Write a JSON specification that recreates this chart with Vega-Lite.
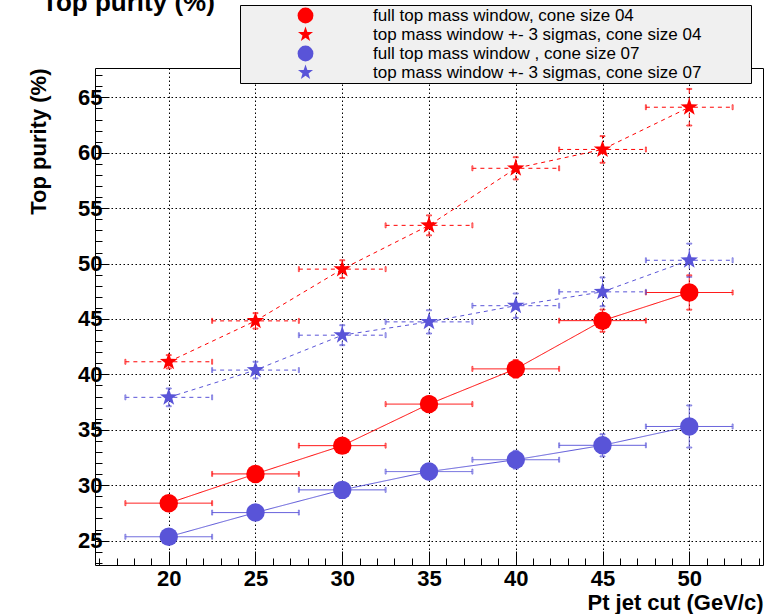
{
  "$schema": "https://vega.github.io/schema/vega-lite/v6.json",
  "width": 668,
  "height": 497,
  "autosize": {"type": "none"},
  "padding": {"left": 95, "top": 68, "right": 8, "bottom": 49},
  "background": "white",
  "title": {
    "text": "Top purity (%)",
    "anchor": "start",
    "frame": "group",
    "font": "Liberation Sans",
    "fontSize": 26,
    "fontWeight": "bold",
    "color": "black",
    "dx": -53,
    "offset": -32,
    "baseline": "alphabetic"
  },
  "config": {
    "view": {"stroke": "black", "strokeWidth": 1},
    "font": "Liberation Sans",
    "axis": {
      "gridColor": "black",
      "gridDash": [1.5, 2.5],
      "gridWidth": 1,
      "tickColor": "black",
      "tickWidth": 1,
      "domain": false,
      "labelFont": "Liberation Sans",
      "labelFontSize": 22,
      "labelFontWeight": "bold",
      "labelColor": "black",
      "labelFlush": false,
      "labelOverlap": false,
      "titleFont": "Liberation Sans",
      "titleFontSize": 22,
      "titleFontWeight": "bold",
      "titleColor": "black",
      "titleAnchor": "end"
    }
  },
  "resolve": {"axis": {"x": "independent", "y": "independent"}},
  "data": {
    "values": [
      {"series": "full top mass window, cone size 04", "x": 20, "y": 28.38, "xlo": 17.5, "xhi": 22.5, "ylo": 27.88, "yhi": 28.88},
      {"series": "full top mass window, cone size 04", "x": 25, "y": 31.02, "xlo": 22.5, "xhi": 27.5, "ylo": 30.47, "yhi": 31.57},
      {"series": "full top mass window, cone size 04", "x": 30, "y": 33.57, "xlo": 27.5, "xhi": 32.5, "ylo": 32.97, "yhi": 34.17},
      {"series": "full top mass window, cone size 04", "x": 35, "y": 37.32, "xlo": 32.5, "xhi": 37.5, "ylo": 36.62, "yhi": 38.02},
      {"series": "full top mass window, cone size 04", "x": 40, "y": 40.5, "xlo": 37.5, "xhi": 42.5, "ylo": 39.7, "yhi": 41.3},
      {"series": "full top mass window, cone size 04", "x": 45, "y": 44.85, "xlo": 42.5, "xhi": 47.5, "ylo": 43.85, "yhi": 45.85},
      {"series": "full top mass window, cone size 04", "x": 50, "y": 47.39, "xlo": 47.5, "xhi": 52.5, "ylo": 45.84, "yhi": 48.94},
      {"series": "top mass window +- 3 sigmas, cone size 04", "x": 20, "y": 41.14, "xlo": 17.5, "xhi": 22.5, "ylo": 40.54, "yhi": 41.74},
      {"series": "top mass window +- 3 sigmas, cone size 04", "x": 25, "y": 44.83, "xlo": 22.5, "xhi": 27.5, "ylo": 44.13, "yhi": 45.53},
      {"series": "top mass window +- 3 sigmas, cone size 04", "x": 30, "y": 49.5, "xlo": 27.5, "xhi": 32.5, "ylo": 48.7, "yhi": 50.3},
      {"series": "top mass window +- 3 sigmas, cone size 04", "x": 35, "y": 53.45, "xlo": 32.5, "xhi": 37.5, "ylo": 52.55, "yhi": 54.35},
      {"series": "top mass window +- 3 sigmas, cone size 04", "x": 40, "y": 58.6, "xlo": 37.5, "xhi": 42.5, "ylo": 57.6, "yhi": 59.6},
      {"series": "top mass window +- 3 sigmas, cone size 04", "x": 45, "y": 60.3, "xlo": 42.5, "xhi": 47.5, "ylo": 59.1, "yhi": 61.5},
      {"series": "top mass window +- 3 sigmas, cone size 04", "x": 50, "y": 64.11, "xlo": 47.5, "xhi": 52.5, "ylo": 62.46, "yhi": 65.76},
      {"series": "full top mass window , cone size 07", "x": 20, "y": 25.35, "xlo": 17.5, "xhi": 22.5, "ylo": 24.85, "yhi": 25.85},
      {"series": "full top mass window , cone size 07", "x": 25, "y": 27.53, "xlo": 22.5, "xhi": 27.5, "ylo": 26.98, "yhi": 28.08},
      {"series": "full top mass window , cone size 07", "x": 30, "y": 29.58, "xlo": 27.5, "xhi": 32.5, "ylo": 28.98, "yhi": 30.18},
      {"series": "full top mass window , cone size 07", "x": 35, "y": 31.23, "xlo": 32.5, "xhi": 37.5, "ylo": 30.53, "yhi": 31.93},
      {"series": "full top mass window , cone size 07", "x": 40, "y": 32.3, "xlo": 37.5, "xhi": 42.5, "ylo": 31.5, "yhi": 33.1},
      {"series": "full top mass window , cone size 07", "x": 45, "y": 33.6, "xlo": 42.5, "xhi": 47.5, "ylo": 32.6, "yhi": 34.6},
      {"series": "full top mass window , cone size 07", "x": 50, "y": 35.3, "xlo": 47.5, "xhi": 52.5, "ylo": 33.4, "yhi": 37.2},
      {"series": "top mass window +- 3 sigmas, cone size 07", "x": 20, "y": 37.93, "xlo": 17.5, "xhi": 22.5, "ylo": 37.13, "yhi": 38.73},
      {"series": "top mass window +- 3 sigmas, cone size 07", "x": 25, "y": 40.39, "xlo": 22.5, "xhi": 27.5, "ylo": 39.64, "yhi": 41.14},
      {"series": "top mass window +- 3 sigmas, cone size 07", "x": 30, "y": 43.54, "xlo": 27.5, "xhi": 32.5, "ylo": 42.64, "yhi": 44.44},
      {"series": "top mass window +- 3 sigmas, cone size 07", "x": 35, "y": 44.74, "xlo": 32.5, "xhi": 37.5, "ylo": 43.69, "yhi": 45.79},
      {"series": "top mass window +- 3 sigmas, cone size 07", "x": 40, "y": 46.2, "xlo": 37.5, "xhi": 42.5, "ylo": 45.1, "yhi": 47.3},
      {"series": "top mass window +- 3 sigmas, cone size 07", "x": 45, "y": 47.45, "xlo": 42.5, "xhi": 47.5, "ylo": 46.15, "yhi": 48.75},
      {"series": "top mass window +- 3 sigmas, cone size 07", "x": 50, "y": 50.3, "xlo": 47.5, "xhi": 52.5, "ylo": 48.8, "yhi": 51.8}
    ]
  },
  "layer": [
    {
      "mark": {"type": "line", "strokeWidth": 1},
      "encoding": {
        "x": {"field": "x", "type": "quantitative", "scale": {"domain": [15.75, 54.25], "nice": false, "zero": false},
          "axis": {"orient": "bottom", "values": [20, 25, 30, 35, 40, 45, 50], "grid": true, "tickSize": -14, "labelPadding": 17, "title": "Pt jet cut (GeV/c)", "titlePadding": 3}},
        "y": {"field": "y", "type": "quantitative", "scale": {"domain": [22.8, 67.65], "nice": false, "zero": false},
          "axis": {"orient": "left", "values": [25, 30, 35, 40, 45, 50, 55, 60, 65], "grid": true, "tickSize": -14, "labelPadding": 7, "title": "Top purity (%)", "titlePadding": 27}},
        "stroke": {"field": "series", "type": "nominal",
          "scale": {"range": ["#5954d8", "#ff0000", "#ff0000", "#5954d8"]},
          "legend": null},
        "strokeDash": {"field": "series", "type": "nominal",
          "scale": {"range": [[1, 0], [1, 0], [4, 4], [4, 4]]},
          "legend": null}
      }
    },
    {
      "mark": {"type": "rule", "strokeWidth": 1},
      "encoding": {
        "x": {"field": "xlo", "type": "quantitative", "axis": null},
        "x2": {"field": "xhi"},
        "y": {"field": "y", "type": "quantitative", "axis": null},
        "stroke": {"field": "series", "type": "nominal", "legend": null},
        "strokeDash": {"field": "series", "type": "nominal", "legend": null}
      }
    },
    {
      "mark": {"type": "rule", "strokeWidth": 1},
      "encoding": {
        "x": {"field": "x", "type": "quantitative", "axis": null},
        "y": {"field": "ylo", "type": "quantitative", "axis": null},
        "y2": {"field": "yhi"},
        "stroke": {"field": "series", "type": "nominal", "legend": null},
        "strokeDash": {"field": "series", "type": "nominal", "legend": null}
      }
    },
    {
      "mark": {"type": "tick", "orient": "vertical", "size": 5, "thickness": 1, "filled": false, "strokeWidth": 1},
      "encoding": {
        "x": {"field": "xlo", "type": "quantitative", "axis": null},
        "y": {"field": "y", "type": "quantitative", "axis": null},
        "stroke": {"field": "series", "type": "nominal", "legend": null}
      }
    },
    {
      "mark": {"type": "tick", "orient": "vertical", "size": 5, "thickness": 1, "filled": false, "strokeWidth": 1},
      "encoding": {
        "x": {"field": "xhi", "type": "quantitative", "axis": null},
        "y": {"field": "y", "type": "quantitative", "axis": null},
        "stroke": {"field": "series", "type": "nominal", "legend": null}
      }
    },
    {
      "mark": {"type": "tick", "orient": "horizontal", "size": 5, "thickness": 1, "filled": false, "strokeWidth": 1},
      "encoding": {
        "x": {"field": "x", "type": "quantitative", "axis": null},
        "y": {"field": "ylo", "type": "quantitative", "axis": null},
        "stroke": {"field": "series", "type": "nominal", "legend": null}
      }
    },
    {
      "mark": {"type": "tick", "orient": "horizontal", "size": 5, "thickness": 1, "filled": false, "strokeWidth": 1},
      "encoding": {
        "x": {"field": "x", "type": "quantitative", "axis": null},
        "y": {"field": "yhi", "type": "quantitative", "axis": null},
        "stroke": {"field": "series", "type": "nominal", "legend": null}
      }
    },
    {
      "mark": {"type": "point", "filled": true, "opacity": 1, "size": 340, "strokeWidth": 0},
      "encoding": {
        "x": {"field": "x", "type": "quantitative",
          "axis": {"orient": "bottom", "values": [16,17,18,19,21,22,23,24,26,27,28,29,31,32,33,34,36,37,38,39,41,42,43,44,46,47,48,49,51,52,53,54], "grid": false, "labels": false, "tickSize": -7, "title": null}},
        "y": {"field": "y", "type": "quantitative",
          "axis": {"orient": "left", "values": [23,24,26,27,28,29,31,32,33,34,36,37,38,39,41,42,43,44,46,47,48,49,51,52,53,54,56,57,58,59,61,62,63,64,66,67], "grid": false, "labels": false, "tickSize": -7, "title": null}},
        "color": {
          "field": "series", "type": "nominal",
          "scale": {"domain": ["full top mass window, cone size 04", "top mass window +- 3 sigmas, cone size 04", "full top mass window , cone size 07", "top mass window +- 3 sigmas, cone size 07"], "range": ["#ff0000", "#ff0000", "#5954d8", "#5954d8"]},
          "legend": {
            "title": "\u2003",
            "titleOrient": "right",
            "titlePadding": 48,
            "titleFontSize": 10,
            "orient": "none",
            "legendX": 145,
            "legendY": -63,
            "fillColor": "#f0f0f0",
            "strokeColor": "black",
            "padding": 2,
            "rowPadding": 1,
            "symbolOffset": 55,
            "labelOffset": 59,
            "symbolSize": 250,
            "symbolStrokeWidth": 0,
            "labelFont": "Liberation Sans",
            "labelFontSize": 17,
            "labelColor": "black",
            "labelLimit": 600
          }
        },
        "shape": {
          "field": "series", "type": "nominal",
          "scale": {"domain": ["full top mass window, cone size 04", "top mass window +- 3 sigmas, cone size 04", "full top mass window , cone size 07", "top mass window +- 3 sigmas, cone size 07"], "range": ["circle", "M0,-1L0.2351,-0.3236L0.9511,-0.309L0.3804,0.1236L0.5878,0.809L0,0.4L-0.5878,0.809L-0.3804,0.1236L-0.9511,-0.309L-0.2351,-0.3236Z", "circle", "M0,-1L0.2351,-0.3236L0.9511,-0.309L0.3804,0.1236L0.5878,0.809L0,0.4L-0.5878,0.809L-0.3804,0.1236L-0.9511,-0.309L-0.2351,-0.3236Z"]},
          "legend": {
            "title": "\u2003",
            "titleOrient": "right",
            "titlePadding": 48,
            "titleFontSize": 10,
            "orient": "none",
            "legendX": 145,
            "legendY": -63,
            "fillColor": "#f0f0f0",
            "strokeColor": "black",
            "padding": 2,
            "rowPadding": 1,
            "symbolOffset": 55,
            "labelOffset": 59,
            "symbolSize": 250,
            "symbolStrokeWidth": 0,
            "labelFont": "Liberation Sans",
            "labelFontSize": 17,
            "labelColor": "black",
            "labelLimit": 600
          }
        }
      }
    }
  ]
}
